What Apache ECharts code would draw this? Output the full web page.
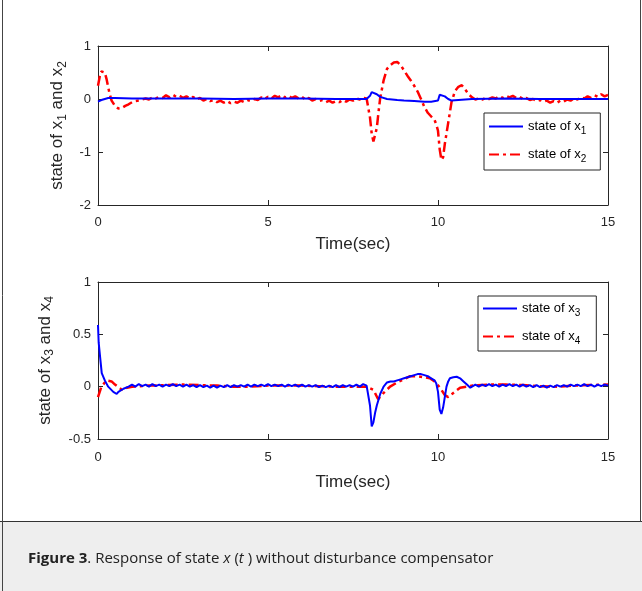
<!DOCTYPE html>
<html><head><meta charset="utf-8">
<script src="https://cdn.jsdelivr.net/npm/echarts@6/dist/echarts.min.js"></script>
<style>html,body{margin:0;padding:0;background:#fff}#c{width:642px;height:591px}</style>
</head><body><div id="c"></div>
<script>
// ---------- data ----------
var xTicks = [0, 5, 10, 15];
var yTicksTop = [-2, -1, 0, 1];
var yTicksBottom = [-0.5, 0, 0.5, 1];

// x1 (top, blue)
var t_x1 = [0,0.1,0.2,0.3,0.5,1,2,3,4,5,6,7,7.9,8.0,8.05,8.1,8.2,8.3,8.5,8.8,9.0,9.3,9.6,9.8,10.0,10.05,10.1,10.2,10.3,10.4,10.6,11,12,13,14,15];
var x1   = [-0.05,-0.02,0.0,0.02,0.02,0.01,0.01,0.01,0.0,0.01,0.01,0.0,0.0,0.06,0.13,0.13,0.09,0.04,0.0,-0.02,-0.03,-0.04,-0.05,-0.05,-0.03,0.08,0.1,0.05,0.0,-0.03,-0.02,0.0,0.01,0.0,0.0,0.0];

// x2 (top, red dash-dot)
var t_x2 = [0,0.05,0.1,0.15,0.2,0.25,0.3,0.35,0.4,0.5,0.6,0.7,0.8,0.9,1.0,1.1,1.2,
 1.3,1.4,1.5,1.6,1.7,1.8,1.9,2.0,2.1,2.2,2.3,2.4,2.5,2.6,2.7,2.8,2.9,3.0,3.1,3.2,3.3,3.4,3.5,3.6,3.7,3.8,3.9,4.0,
 4.1,4.2,4.3,4.4,4.5,4.6,4.7,4.8,4.9,5.0,5.1,5.2,5.3,5.4,5.5,5.6,5.7,5.8,5.9,6.0,6.1,6.2,6.3,6.4,6.5,6.6,6.7,6.8,6.9,7.0,
 7.1,7.2,7.3,7.4,7.5,7.6,7.7,7.8,7.9,
 8.0,8.05,8.1,8.15,8.2,8.25,8.3,8.4,8.5,8.6,8.7,8.8,8.9,9.0,9.1,9.2,9.3,9.4,9.5,9.6,9.7,9.8,9.9,9.95,
 10.0,10.05,10.1,10.15,10.2,10.3,10.4,10.5,10.6,10.7,10.8,10.9,11.0,11.1,11.2,
 11.3,11.4,11.5,11.6,11.7,11.8,11.9,12.0,12.1,12.2,12.3,12.4,12.5,12.6,12.7,12.8,12.9,13.0,13.1,13.2,13.3,13.4,13.5,
 13.6,13.7,13.8,13.9,14.0,14.1,14.2,14.3,14.4,14.5,14.6,14.7,14.8,14.9,15.0];
var x2 = [0.25,0.42,0.52,0.55,0.5,0.38,0.22,0.08,-0.03,-0.13,-0.18,-0.17,-0.13,-0.1,-0.06,-0.04,-0.03,
 -0.01,0.01,-0.01,0.03,0.01,0.04,0.02,0.07,0.03,0.08,0.04,0.06,0.02,0.05,0.01,0.04,-0.01,0.02,-0.03,0.0,-0.04,-0.02,-0.06,-0.03,-0.07,-0.04,-0.08,-0.05,
 -0.07,-0.03,-0.06,-0.02,-0.04,0.0,-0.02,0.03,0.0,0.04,0.01,0.06,0.03,0.07,0.03,0.06,0.02,0.05,0.01,0.04,-0.01,0.02,-0.03,0.0,-0.04,-0.02,-0.06,-0.03,-0.07,-0.04,
 -0.06,-0.02,-0.05,-0.01,-0.03,0.01,-0.01,0.02,0.01,
 -0.35,-0.65,-0.8,-0.78,-0.55,-0.25,0.02,0.35,0.57,0.64,0.69,0.7,0.64,0.54,0.44,0.35,0.25,0.14,0.0,-0.15,-0.26,-0.33,-0.4,-0.48,
 -0.6,-0.95,-1.15,-1.1,-0.85,-0.45,-0.05,0.15,0.23,0.26,0.18,0.09,0.03,-0.01,0.01,
 -0.01,0.02,0.0,0.03,0.01,0.05,0.02,0.06,0.03,0.06,0.02,0.04,0.0,0.02,-0.02,0.0,-0.04,-0.02,-0.05,-0.03,-0.07,-0.04,-0.07,
 -0.03,-0.05,-0.01,-0.03,0.01,-0.01,0.03,0.01,0.05,0.02,0.07,0.04,0.09,0.05,0.08];

// x3 (bottom, blue)
var t_x3 = [0,0.02,0.06,0.11,0.2,0.3,0.45,0.55,0.6,0.75,0.9,
 1.0,1.1,1.2,1.3,1.4,1.5,1.6,1.7,1.8,1.9,2.0,2.1,2.2,2.3,2.4,2.5,2.6,2.7,2.8,2.9,3.0,3.1,3.2,3.3,3.4,3.5,3.6,3.7,3.8,3.9,
 4.0,4.1,4.2,4.3,4.4,4.5,4.6,4.7,4.8,4.9,5.0,5.1,5.2,5.3,5.4,5.5,5.6,5.7,5.8,5.9,6.0,6.1,6.2,6.3,6.4,6.5,6.6,6.7,6.8,6.9,
 7.0,7.1,7.2,7.3,7.4,7.5,7.6,7.7,7.8,7.9,
 7.95,8.0,8.05,8.1,8.15,8.2,8.3,8.4,8.5,8.6,8.7,8.8,8.9,9.0,9.1,9.2,9.3,9.4,9.5,9.6,9.7,9.8,9.9,9.95,
 10.0,10.05,10.1,10.15,10.2,10.25,10.3,10.35,10.45,10.55,10.65,10.75,10.85,10.95,
 11.0,11.1,11.2,11.3,11.4,11.5,11.6,11.7,11.8,11.9,12.0,12.1,12.2,12.3,12.4,12.5,12.6,12.7,12.8,12.9,
 13.0,13.1,13.2,13.3,13.4,13.5,13.6,13.7,13.8,13.9,14.0,14.1,14.2,14.3,14.4,14.5,14.6,14.7,14.8,14.9,15.0];
var x3 = [0.59,0.42,0.29,0.13,0.06,0.0,-0.05,-0.07,-0.05,-0.02,0.0,
 0.02,0.0,0.025,0.005,0.02,0.0,0.025,0.005,0.02,0.0,0.02,0.005,0.025,0.005,0.02,0.0,0.02,0.0,0.015,-0.005,0.015,-0.005,0.01,-0.01,0.01,-0.01,0.01,-0.005,0.015,-0.005,
 0.015,0.0,0.015,0.0,0.02,0.0,0.02,0.005,0.02,0.005,0.025,0.005,0.02,0.005,0.02,0.0,0.02,0.005,0.02,0.0,0.02,0.0,0.015,0.0,0.015,-0.005,0.01,-0.005,0.01,-0.005,
 0.015,-0.005,0.015,0.0,0.015,0.0,0.02,0.0,0.025,0.01,
 0.0,-0.18,-0.38,-0.34,-0.25,-0.18,-0.07,0.0,0.04,0.05,0.05,0.06,0.07,0.08,0.09,0.1,0.11,0.12,0.12,0.11,0.1,0.08,0.06,0.03,
 -0.05,-0.22,-0.26,-0.2,-0.1,0.0,0.05,0.08,0.09,0.095,0.08,0.05,0.02,-0.01,
 0.0,0.02,0.0,0.02,0.005,0.025,0.005,0.02,0.0,0.02,0.005,0.025,0.005,0.02,0.0,0.02,0.0,0.015,-0.005,0.015,
 -0.005,0.01,-0.01,0.01,-0.005,0.015,0.0,0.015,0.0,0.02,0.005,0.02,0.005,0.025,0.005,0.02,0.0,0.02,0.005,0.02,0.01];

// x4 (bottom, red dash-dot)
var t_x4 = [0,0.1,0.25,0.4,0.5,0.7,0.85,1.0,1.5,2.0,2.5,3.0,3.5,4.0,4.5,5.0,5.5,6.0,6.5,7.0,7.5,7.9,
 8.1,8.24,8.4,8.59,8.8,9.0,9.18,9.4,9.6,9.76,9.9,10.06,10.2,10.3,10.45,10.65,10.85,
 11.0,11.5,12.0,12.5,13.0,13.5,14.0,14.5,15.0];
var x4 = [-0.1,0.0,0.06,0.05,0.02,-0.03,-0.01,0.0,0.01,0.015,0.02,0.015,0.01,0.0,0.0,0.01,0.01,0.01,0.005,0.0,0.0,0.0,
 -0.03,-0.12,-0.06,0.0,0.04,0.07,0.1,0.1,0.09,0.08,0.05,-0.01,-0.08,-0.1,-0.06,-0.01,0.0,
 0.01,0.02,0.02,0.015,0.005,0.0,0.01,0.015,0.02];

function pairs(t, v){ return t.map(function(x,i){ return [x, v[i]]; }); }

// ---------- chart ----------
var chart = echarts.init(document.getElementById('c'), null, {renderer:'canvas'});
var AX = '#262626';
var FF = 'Liberation Sans, Arial, sans-serif';
var tickFont = {fontFamily:FF, fontSize:13, color:AX};
var nameRich = {
  n:{fontFamily:FF, fontSize:17, color:AX},
  sub:{fontFamily:FF, fontSize:12, color:AX, padding:[10,0,0,0]}
};
var legRich = {
  n:{fontFamily:FF, fontSize:13, color:'#000'},
  sub:{fontFamily:FF, fontSize:10, color:'#000', padding:[9,0,0,0]}
};
function subText(s){ return '{n|' + s.replace(/x(\d)/g, '}{n|x}{sub|$1}{n|') + '}'; }

function xAx(grid, labelMargin, nameGap){
  return [{
    type:'value', gridIndex:grid, min:0, max:15, interval:5,
    name:'Time(sec)', nameLocation:'middle', nameGap:nameGap,
    nameTextStyle:{fontFamily:FF, fontSize:17, color:AX},
    axisLine:{show:true, onZero:false, lineStyle:{color:AX, width:1}},
    axisTick:{show:true, inside:true, length:5, lineStyle:{color:AX}},
    axisLabel:Object.assign({margin:labelMargin}, tickFont),
    splitLine:{show:false}
  },{
    type:'value', gridIndex:grid, min:0, max:15, interval:5, position:'top',
    axisLine:{show:true, onZero:false, lineStyle:{color:AX, width:1}},
    axisTick:{show:true, inside:true, length:5, lineStyle:{color:AX}},
    axisLabel:{show:false}, splitLine:{show:false}
  }];
}
function yAx(grid, min, max, interval, name, gap){
  return [{
    type:'value', gridIndex:grid, min:min, max:max, interval:interval,
    name:subText(name), nameLocation:'middle', nameGap:gap, nameRotate:90,
    nameTextStyle:{rich:nameRich},
    axisLine:{show:true, onZero:false, lineStyle:{color:AX, width:1}},
    axisTick:{show:true, inside:true, length:5, lineStyle:{color:AX}},
    axisLabel:Object.assign({margin:7}, tickFont),
    splitLine:{show:false}
  },{
    type:'value', gridIndex:grid, min:min, max:max, interval:interval, position:'right',
    axisLine:{show:true, onZero:false, lineStyle:{color:AX, width:1}},
    axisTick:{show:true, inside:true, length:5, lineStyle:{color:AX}},
    axisLabel:{show:false}, splitLine:{show:false}
  }];
}

var blueStyle = {color:'#0000ff', width:2, type:'solid'};
var redStyle = {color:'#ff0000', width:2.5, type:[10,4,3,4]};

var option = {
  animation:false,
  backgroundColor:'#ffffff',
  grid:[
    {left:98, top:46, width:510, height:159},
    {left:98, top:282, width:510, height:157}
  ],
  xAxis:xAx(0, 11, 31).concat(xAx(1, 12, 35)),
  yAxis:yAx(0,-2,1,1,'state of x1 and x2',29).concat(yAx(1,-0.5,1,0.5,'state of x3 and x4',42)),
  legend:[
    {data:['state of x1','state of x2'], orient:'vertical', left:484, top:113,
     itemWidth:34, itemHeight:12, itemGap:12, padding:[7,14,6,4],
     itemStyle:{opacity:0},
     borderColor:AX, borderWidth:1, backgroundColor:'#fff',
     formatter:function(n){ return subText(n); }, textStyle:{rich:legRich}},
    {data:['state of x3','state of x4'], orient:'vertical', left:478, top:296,
     itemWidth:34, itemHeight:12, itemGap:12, padding:[6,16,5,4],
     itemStyle:{opacity:0},
     borderColor:AX, borderWidth:1, backgroundColor:'#fff',
     formatter:function(n){ return subText(n); }, textStyle:{rich:legRich}}
  ],
  series:[
    {name:'state of x1', type:'line', xAxisIndex:0, yAxisIndex:0, data:pairs(t_x1,x1), showSymbol:false, symbol:'none', lineStyle:blueStyle, itemStyle:{color:'#0000ff'}, z:3},
    {name:'state of x2', type:'line', xAxisIndex:0, yAxisIndex:0, data:pairs(t_x2,x2), showSymbol:false, symbol:'none', lineStyle:redStyle, itemStyle:{color:'#ff0000'}, z:2},
    {name:'state of x3', type:'line', xAxisIndex:2, yAxisIndex:2, data:pairs(t_x3,x3), showSymbol:false, symbol:'none', lineStyle:blueStyle, itemStyle:{color:'#0000ff'}, z:3},
    {name:'state of x4', type:'line', xAxisIndex:2, yAxisIndex:2, data:pairs(t_x4,x4), showSymbol:false, symbol:'none', lineStyle:redStyle, itemStyle:{color:'#ff0000'}, z:2}
  ],
  graphic:[
    {type:'rect', shape:{x:0, y:522, width:642, height:69}, style:{fill:'#eeeeee'}, z:-1},
    {type:'line', shape:{x1:0, y1:521.5, x2:642, y2:521.5}, style:{stroke:'#333', lineWidth:1}},
    {type:'line', shape:{x1:2.5, y1:0, x2:2.5, y2:591}, style:{stroke:'#444', lineWidth:1}},
    {type:'line', shape:{x1:640.5, y1:0, x2:640.5, y2:522}, style:{stroke:'#444', lineWidth:1}},
    {type:'text', left:28, top:551, style:{
      text:'{b|Figure 3}{r|. Response of state }{i|x}{r| (}{i|t}{r| ) without disturbance compensator}',
      rich:{
        b:{fontFamily:'Open Sans, Noto Sans, sans-serif', fontSize:15, fontWeight:'bold', fill:'#222'},
        r:{fontFamily:'Open Sans, Noto Sans, sans-serif', fontSize:15, fill:'#222'},
        i:{fontFamily:'Open Sans, Noto Sans, sans-serif', fontSize:15, fontStyle:'italic', fill:'#222'}
      }}}
  ]
};
chart.setOption(option);
</script></body></html>
